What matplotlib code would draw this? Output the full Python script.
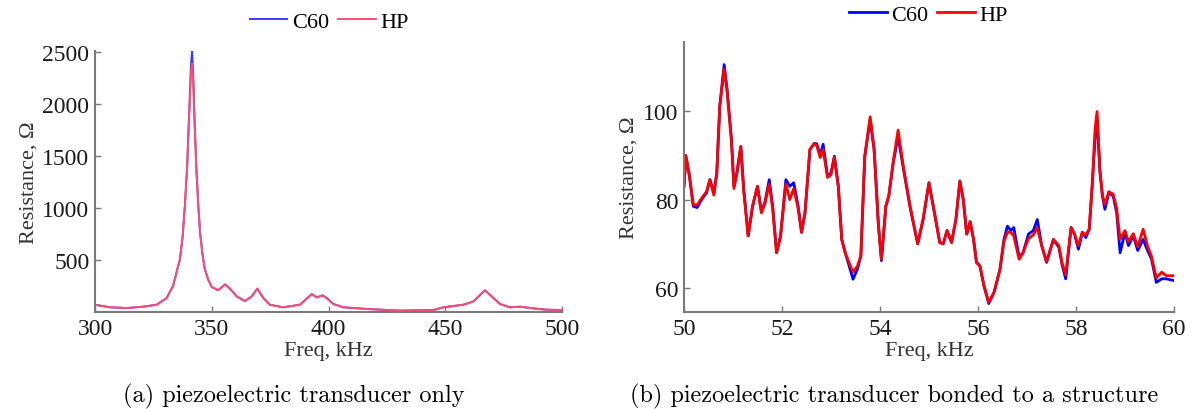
import matplotlib.pyplot as plt

# (a) piezoelectric transducer only, 300-500 kHz
freq_a = [300, 306.4, 313.6, 320.7, 326.4, 330.7, 333.5, 336.4, 337.5, 338.5,
          339.5, 340.3, 341.1, 341.6, 342.1, 342.7, 343.5, 344.3, 345.0, 346.0,
          347.0, 348.5, 350.0, 352.8, 355.7, 357.8, 360.7, 364.2, 367.1, 369.5,
          372.1, 374.9, 380.6, 387.8, 392.8, 395.0, 397.5, 399.2, 402.0, 406.3,
          416.3, 430.6, 444.9, 449.2, 457.8, 462.1, 465.0, 467.0, 469.9, 473.4,
          477.7, 482.0, 487.7, 493.4, 500.0]
c60_a = [70, 45, 38, 51, 70, 134, 255, 510, 720, 1020,
         1420, 1900, 2380, 2510, 2250, 1800, 1340, 1000, 765, 560,
         415, 310, 240, 210, 265, 225, 150, 105, 150, 225,
         134, 70, 45, 70, 172, 140, 160, 134, 77, 45,
         29, 13, 19, 45, 70, 102, 166, 208, 150, 77,
         45, 51, 35, 22, 19]
hp_a = [70, 45, 38, 51, 70, 134, 255, 510, 720, 1020,
        1420, 1880, 2300, 2390, 2200, 1780, 1330, 1000, 765, 560,
        415, 310, 240, 210, 265, 225, 150, 105, 150, 225,
        134, 70, 45, 70, 172, 140, 160, 134, 77, 45,
        29, 13, 19, 45, 70, 102, 166, 208, 150, 77,
        45, 51, 35, 22, 19]

# (b) transducer bonded to a structure, 50-60 kHz
freq_b = [50.00, 50.04, 50.11, 50.19, 50.27, 50.36, 50.46, 50.53, 50.61, 50.67,
          50.73, 50.82, 50.88, 50.97, 51.02, 51.08, 51.16, 51.22, 51.31, 51.40,
          51.50, 51.58, 51.65, 51.74, 51.81, 51.89, 51.97, 52.08, 52.16, 52.24,
          52.33, 52.40, 52.47, 52.57, 52.66, 52.71, 52.78, 52.84, 52.93, 53.00,
          53.07, 53.15, 53.22, 53.29, 53.35, 53.45, 53.54, 53.61, 53.69, 53.80,
          53.88, 53.97, 54.03, 54.12, 54.18, 54.27, 54.37, 54.47, 54.61, 54.77,
          54.88, 55.00, 55.12, 55.22, 55.29, 55.37, 55.46, 55.55, 55.63, 55.70,
          55.77, 55.84, 55.91, 55.97, 56.04, 56.12, 56.22, 56.33, 56.45, 56.53,
          56.60, 56.67, 56.73, 56.84, 56.92, 57.03, 57.13, 57.21, 57.30, 57.40,
          57.54, 57.65, 57.72, 57.79, 57.90, 57.97, 58.05, 58.13, 58.20, 58.27,
          58.33, 58.39, 58.43, 58.49, 58.54, 58.59, 58.67, 58.76, 58.83, 58.90,
          59.00, 59.07, 59.17, 59.26, 59.37, 59.46, 59.54, 59.64, 59.75, 59.84,
          60.00]
c60_b = [83, 89.5, 85.5, 78.5, 78.2, 80, 81.5, 84.5, 81.5, 86,
         101, 110.5, 105, 93.5, 83, 86, 92, 82.3, 71.8, 78.5,
         83, 77.4, 79.3, 84.5, 78.5, 68, 71.8, 84.5, 83, 83.8,
         78.5, 72.6, 77, 91.3, 92.7, 92.6, 90.1, 92.5, 85.3, 86,
         89.8, 83, 71, 68, 65.8, 62, 64.3, 67.3, 89.8, 98,
         91.3, 74, 66.2, 78.5, 80.8, 88.3, 94.2, 87.5, 78.5, 70,
         75.5, 83.8, 76.5, 70.3, 70, 73, 70.3, 75.5, 84.2, 80,
         72.2, 75, 71, 65.8, 65, 60.6, 56.5, 59.1, 64.3, 71,
         74, 73, 73.7, 67, 68, 72.2, 73, 75.5, 69.6, 65.8,
         71, 69.2, 65.1, 62.1, 73.7, 72.2, 68.8, 72.6, 71.4, 73.3,
         83, 94, 98, 86, 80.8, 77.8, 81.5, 80.8, 77, 68,
         72.6, 69.6, 71.8, 68.5, 71, 68.5, 66.6, 61.3, 62.1, 62.1,
         61.7]
hp_b = [83, 90, 85.5, 78.8, 78.8, 80.3, 81.8, 84.5, 81, 86,
        101, 109.5, 104.5, 93, 82.5, 86, 92, 82, 71.8, 78.5,
        83, 77, 79, 83.5, 78, 68, 71.5, 83.5, 80, 82.5,
        78, 72.6, 77, 91.3, 92.7, 92.2, 89.5, 91.3, 85, 85.6,
        89.5, 83, 71, 68, 66.3, 63.6, 65, 67.3, 89.8, 98.7,
        91.5, 74, 66.5, 78.5, 80.8, 88.5, 95.7, 88, 78.8, 70,
        75.5, 83.8, 76.5, 70.3, 70, 73, 70.3, 75.5, 84.2, 80,
        72.2, 75, 71, 65.8, 65, 60.6, 56.8, 59.1, 64.3, 70.5,
        72.6, 72.6, 71.8, 66.5, 68, 71.2, 72, 73.7, 69.6, 66,
        71, 69.6, 65.5, 63, 73.7, 72.2, 69.6, 72.6, 72, 73.3,
        83, 96, 99.9, 86.5, 81, 78.9, 81.8, 81.2, 78, 71,
        73, 70.5, 72.3, 69.3, 73.3, 69.5, 67.2, 62.3, 63.6, 62.8,
        62.8]

serif = "Liberation Serif"
gray = "#7a7a7a"
plt.rcParams["font.family"] = serif
plt.rcParams["font.size"] = 17

fig = plt.figure(figsize=(11.92, 4.10), dpi=100)
ax1 = fig.add_axes([0.0797, 0.2366, 0.3918, 0.6364])
ax2 = fig.add_axes([0.5738, 0.2366, 0.4111, 0.6584])


def style_axes(ax):
    for side in ["top", "right"]:
        ax.spines[side].set_visible(False)
    for side in ["left", "bottom"]:
        ax.spines[side].set_color(gray)
        ax.spines[side].set_linewidth(1.5)
    ax.tick_params(direction="in", length=4, width=1, color=gray,
                   labelsize=17, labelcolor="#1a1a1a", pad=4)
    ax.set_xlabel("Freq, kHz", fontsize=16, color="#333333", labelpad=2)
    ax.set_ylabel("Resistance, \u03a9", fontsize=16, color="#333333", labelpad=3)


ax1.plot(freq_a, c60_a, color="#3a3aff", lw=1.4, label="C60")
ax1.plot(freq_a, hp_a, color="#ff4d6d", lw=1.4, label="HP")
ax1.set_xlim(300, 500)
ax1.set_ylim(0, 2510)
ax1.set_xticks([300, 350, 400, 450, 500])
ax1.set_yticks([500, 1000, 1500, 2000, 2500])
style_axes(ax1)
ax1.legend(loc="center", bbox_to_anchor=(0.276, 0.944), bbox_transform=fig.transFigure,
           ncol=2, frameon=False, fontsize=16, handlelength=1.7, handletextpad=0.2,
           columnspacing=0.4)

ax2.plot(freq_b, c60_b, color="#0000ff", lw=2, label="C60")
ax2.plot(freq_b, hp_b, color="#ff0000", lw=2, label="HP")
ax2.set_xlim(50, 60)
ax2.set_ylim(54.6, 115.6)
ax2.set_xticks([50, 52, 54, 56, 58, 60])
ax2.set_yticks([60, 80, 100])
style_axes(ax2)
ax2.legend(loc="center", bbox_to_anchor=(0.779, 0.962), bbox_transform=fig.transFigure,
           ncol=2, frameon=False, fontsize=16, handlelength=1.7, handletextpad=0.2,
           columnspacing=0.4)

fig.text(0.2466, 0.034, "(a) piezoelectric transducer only", family="cmr10",
         fontsize=17.5, ha="center", va="center")
fig.text(0.750, 0.034, "(b) piezoelectric transducer bonded to a structure",
         family="cmr10", fontsize=17.5, ha="center", va="center")

fig.savefig("out.png", dpi=100)
